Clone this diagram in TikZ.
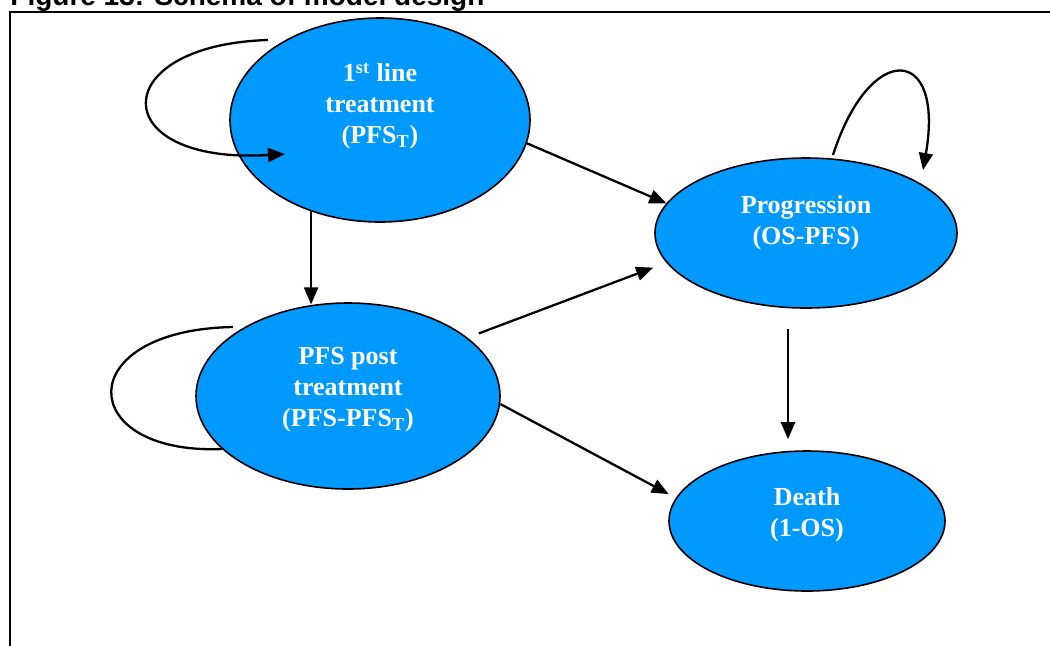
\documentclass[tikz,border=0pt]{standalone}
\usepackage{fontspec}
\setmainfont{Liberation Serif}
\newfontfamily\captionfont{Liberation Sans}
\usepackage{tikz}
\usetikzlibrary{arrows.meta,shapes.geometric}
\definecolor{State_fill}{RGB}{0, 153, 255}
\tikzset{
    state/.style={ellipse, draw=black, line width=0.8pt, fill=State_fill, inner sep=0pt},
    state text/.style={text=white, font=\fontsize{13}{15.5}\selectfont\bfseries, align=center},
    transition/.style={line width=1.15pt, -{Triangle[length=8.5pt, width=7pt]}},
    self loop/.style={line width=1.15pt}
}

\begin{document}
\begin{tikzpicture}[x=0.5pt, y=-0.5pt]
    \clip (0,0) rectangle (1050,645);
    %% Caption and frame
    \node[anchor=base west, inner sep=0pt, font=\captionfont\bfseries\fontsize{14}{16}\selectfont] (caption) at (10,5) {Figure 13: Schema of model design};
    \draw[line width=0.9pt] (10,12) rectangle (1080,680);

    %% States
    \node[state, minimum width=150pt, minimum height=102pt,
        label={[state text, yshift=7pt]center:{1\textsuperscript{st} line\\treatment\\(PFS\textsubscript{T})}}] (first) at (380,120) {};
    \node[state, minimum width=151pt, minimum height=75pt,
        label={[state text, yshift=5pt]center:{Progression\\(OS-PFS)}}] (prog) at (806,233) {};
    \node[state, minimum width=152pt, minimum height=93pt,
        label={[state text, yshift=3pt]center:{PFS post\\treatment\\(PFS-PFS\textsubscript{T})}}] (pfs) at (348,396) {};
    \node[state, minimum width=138pt, minimum height=70pt,
        label={[state text, yshift=3pt]center:{Death\\(1-OS)}}] (death) at (807,521) {};

    %% Transitions
    \draw[transition] (first.-9) -- (prog.168);
    \draw[transition] (first.-127) -- (first.-127 |- pfs.110);
    \draw[transition, shorten <=6pt, shorten >=7pt] (pfs.26) -- (prog.-168);
    \draw[transition, shorten >=4pt] (pfs.-3) -- (death.170);
    \draw[transition, shorten <=10pt, shorten >=5.5pt] ([xshift=-9pt]prog.south) -- ([xshift=-9pt]prog.south |- death.north);

    %% Self loops
    \draw[self loop, -{Triangle[length=8.5pt, width=7pt]}] ([shift={(-112,-80)}]first.center)
        .. controls ([shift={(-275,-75)}]first.center) and ([shift={(-275,45)}]first.center) .. ([shift={(-95,34)}]first.center);
    \draw[self loop] ([shift={(-115,-69)}]pfs.center)
        .. controls ([shift={(-278,-66)}]pfs.center) and ([shift={(-273,59)}]pfs.center) .. ([shift={(-126,53)}]pfs.center);
    \draw[self loop, -{Triangle[length=8.5pt, width=7pt]}] ([shift={(27,-78)}]prog.center)
        .. controls ([shift={(64,-193)}]prog.center) and ([shift={(139,-188)}]prog.center) .. ([shift={(117,-63)}]prog.center);
\end{tikzpicture}
\end{document}
